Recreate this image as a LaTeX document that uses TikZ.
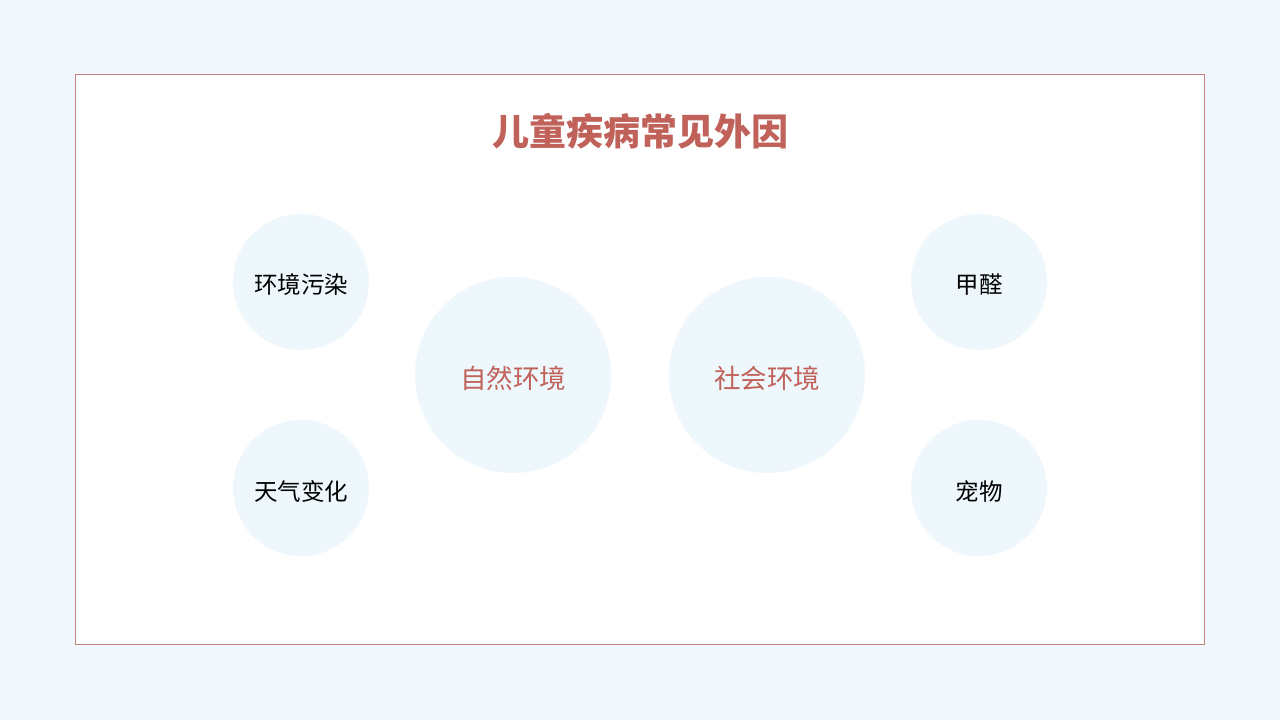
\documentclass[tikz,border=0pt]{standalone}
\usepackage{fontspec}
\newfontfamily\cjk{Noto Sans CJK SC}
\definecolor{bgblue}{RGB}{240,248,253}
\definecolor{circblue}{RGB}{238,247,252}
\definecolor{titlered}{RGB}{192,98,90}
\definecolor{framered}{RGB}{196,130,128}
\tikzset{
  smallc/.style={circle,fill=circblue,minimum size=136pt,inner sep=0pt},
  bigc/.style={circle,fill=circblue,minimum size=196pt,inner sep=0pt},
  smallt/.style={font=\cjk\fontsize{23.5}{28}\selectfont,text=black,yshift=-3pt},
  bigt/.style={font=\cjk\fontsize{26.5}{32}\selectfont,text=titlered,yshift=-3pt},
}
\begin{document}
\begin{tikzpicture}[x=1pt,y=-1pt]
\fill[bgblue] (0,0) rectangle (1280,720);
\useasboundingbox (0,0) rectangle (1280,720);
\draw[framered,fill=white,line width=1pt] (75.5,74.5) rectangle (1204.5,644.5);
\node[font=\cjk\bfseries\fontsize{37}{44}\selectfont,text=titlered] (title) at (640,131) {儿童疾病常见外因};
\node[smallc] (a) at (301,282) {};
\node[smallc] (b) at (301,488) {};
\node[bigc] (c) at (513,375) {};
\node[bigc] (d) at (767,375) {};
\node[smallc] (e) at (979,282) {};
\node[smallc] (f) at (979,488) {};
\node[smallt] (at) at (a) {环境污染};
\node[smallt] (bt) at (b) {天气变化};
\node[bigt] (ct) at (c) {自然环境};
\node[bigt] (dt) at (d) {社会环境};
\node[smallt] (et) at (e) {甲醛};
\node[smallt] (ft) at (f) {宠物};
\end{tikzpicture}
\end{document}
